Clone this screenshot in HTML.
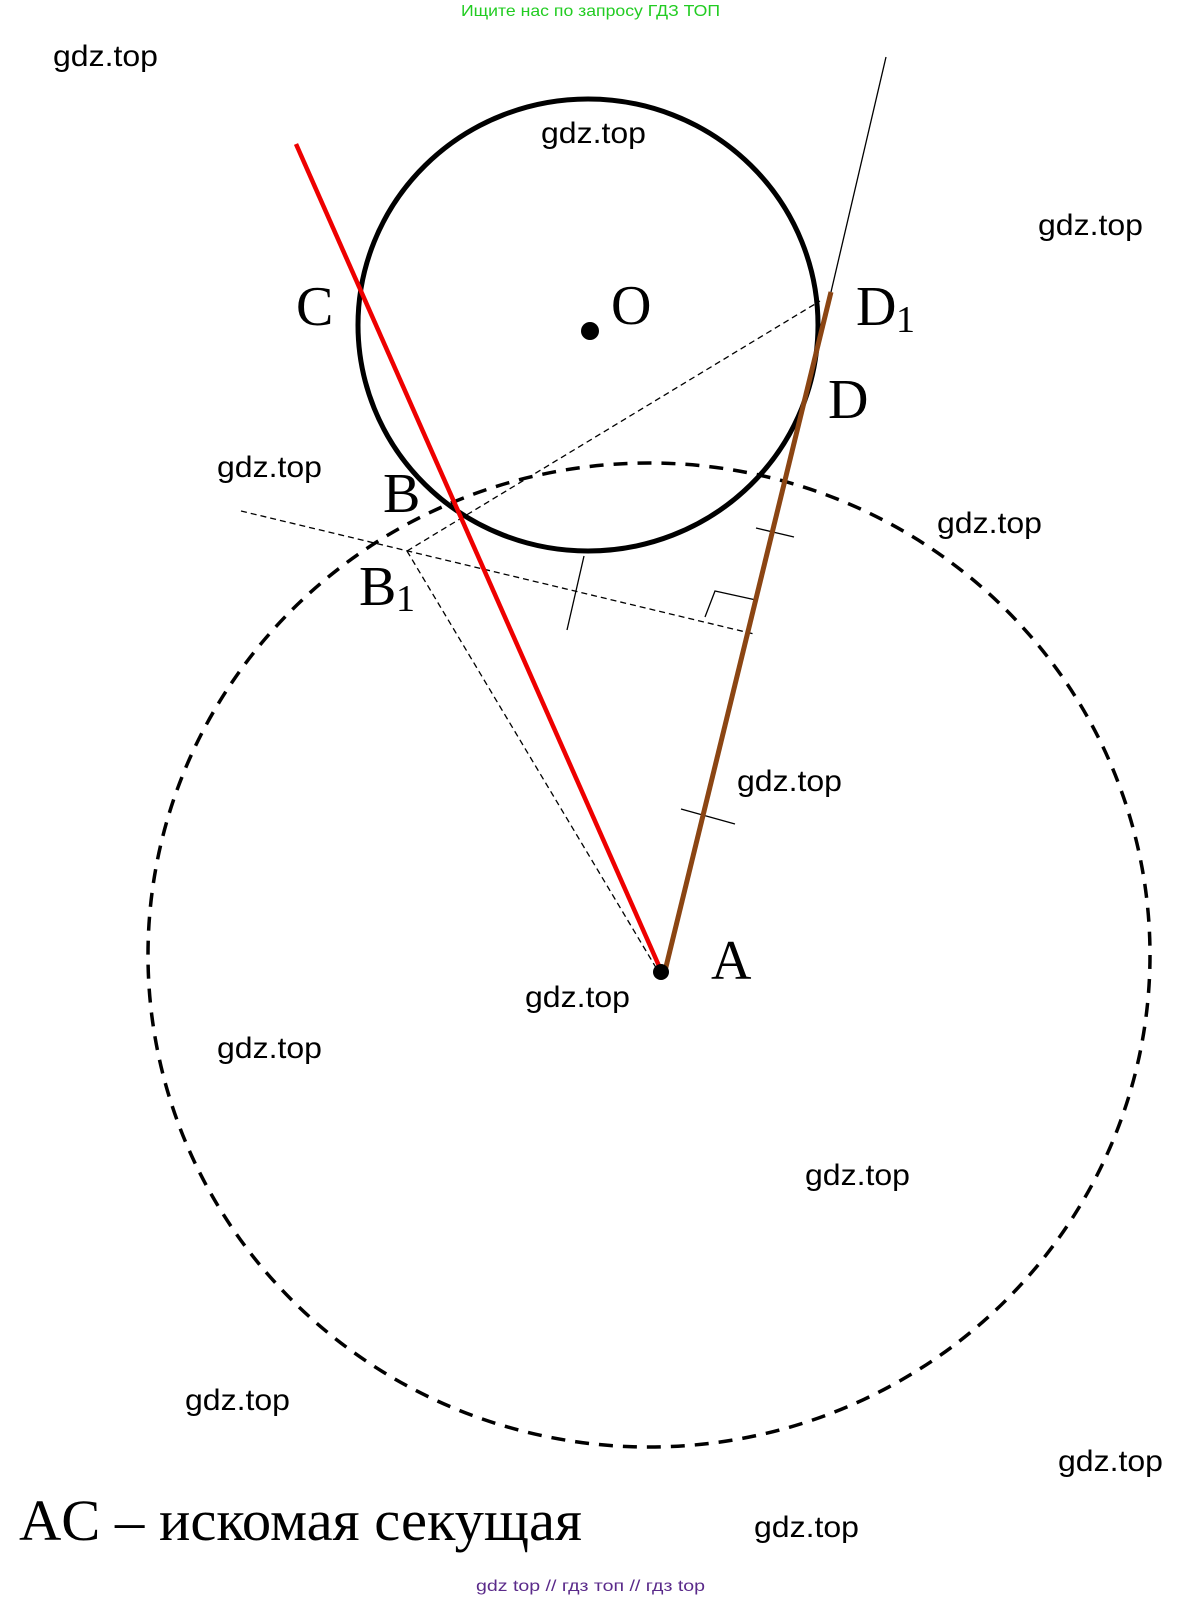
<!DOCTYPE html>
<html><head><meta charset="utf-8"><style>
html,body{margin:0;padding:0;background:#fff;}
svg{display:block;}
.w{font-family:"Liberation Sans",sans-serif;font-size:30px;fill:#000;}
.t{font-family:"Liberation Serif",serif;fill:#000;}
</style></head><body>
<svg width="1182" height="1599" viewBox="0 0 1182 1599" xmlns="http://www.w3.org/2000/svg">
<rect width="1182" height="1599" fill="#fff"/>
<!-- big dashed circle -->
<ellipse cx="649" cy="955" rx="501" ry="492" fill="none" stroke="#000" stroke-width="3.5" stroke-dasharray="14 10"/>
<!-- small circle -->
<ellipse cx="588" cy="325" rx="230" ry="226" fill="none" stroke="#000" stroke-width="5"/>
<circle cx="590" cy="331" r="9" fill="#000"/>
<!-- thin dashed lines -->
<g stroke="#000" stroke-width="1.3" stroke-dasharray="6 4" fill="none">
<line x1="407" y1="551" x2="820" y2="301"/>
<line x1="407" y1="551" x2="661" y2="976"/>
<line x1="241" y1="511" x2="754" y2="634"/>
</g>
<!-- thin solid -->
<g stroke="#000" stroke-width="1.3" fill="none">
<line x1="886" y1="57" x2="831" y2="292"/>
<polyline points="705,617 715,591 756,600"/>
<line x1="584" y1="556" x2="567" y2="630"/>
<line x1="756" y1="528" x2="794" y2="537"/>
<line x1="681" y1="809" x2="735" y2="824"/>
</g>
<!-- red and brown -->
<line x1="296" y1="144" x2="663" y2="975" stroke="#e00" stroke-width="4.5"/>
<line x1="831" y1="292" x2="664" y2="975" stroke="#8b4513" stroke-width="5"/>
<circle cx="661" cy="972" r="8" fill="#000"/>
<!-- labels -->
<text class="t" x="296" y="325" font-size="56">C</text>
<text class="t" x="611" y="324" font-size="56">O</text>
<text class="t" x="856" y="325" font-size="56">D</text>
<text class="t" x="896" y="332" font-size="38">1</text>
<text class="t" x="828" y="418" font-size="56">D</text>
<text class="t" x="383" y="512" font-size="56">B</text>
<text class="t" x="359" y="605" font-size="56">B</text>
<text class="t" x="396" y="611" font-size="38">1</text>
<text class="t" x="711" y="979" font-size="56">A</text>
<text class="t" x="19" y="1540" font-size="58" textLength="563" lengthAdjust="spacingAndGlyphs">AC – искомая секущая</text>
<!-- watermarks -->
<g class="w">
<text x="53" y="66" textLength="105" lengthAdjust="spacingAndGlyphs">gdz.top</text>
<text x="541" y="143" textLength="105" lengthAdjust="spacingAndGlyphs">gdz.top</text>
<text x="1038" y="235" textLength="105" lengthAdjust="spacingAndGlyphs">gdz.top</text>
<text x="217" y="477" textLength="105" lengthAdjust="spacingAndGlyphs">gdz.top</text>
<text x="937" y="533" textLength="105" lengthAdjust="spacingAndGlyphs">gdz.top</text>
<text x="737" y="791" textLength="105" lengthAdjust="spacingAndGlyphs">gdz.top</text>
<text x="525" y="1007" textLength="105" lengthAdjust="spacingAndGlyphs">gdz.top</text>
<text x="217" y="1058" textLength="105" lengthAdjust="spacingAndGlyphs">gdz.top</text>
<text x="805" y="1185" textLength="105" lengthAdjust="spacingAndGlyphs">gdz.top</text>
<text x="185" y="1410" textLength="105" lengthAdjust="spacingAndGlyphs">gdz.top</text>
<text x="1058" y="1471" textLength="105" lengthAdjust="spacingAndGlyphs">gdz.top</text>
<text x="754" y="1537" textLength="105" lengthAdjust="spacingAndGlyphs">gdz.top</text>
</g>
<text x="461" y="16" font-family="Liberation Sans, sans-serif" font-size="16" fill="#22cc22" textLength="259" lengthAdjust="spacingAndGlyphs">Ищите нас по запросу ГДЗ ТОП</text>
<text x="476" y="1591" font-family="Liberation Sans, sans-serif" font-size="16" fill="#5a2a8a" textLength="229" lengthAdjust="spacingAndGlyphs">gdz top  //  гдз топ  //  гдз top</text>
</svg>
</body></html>
